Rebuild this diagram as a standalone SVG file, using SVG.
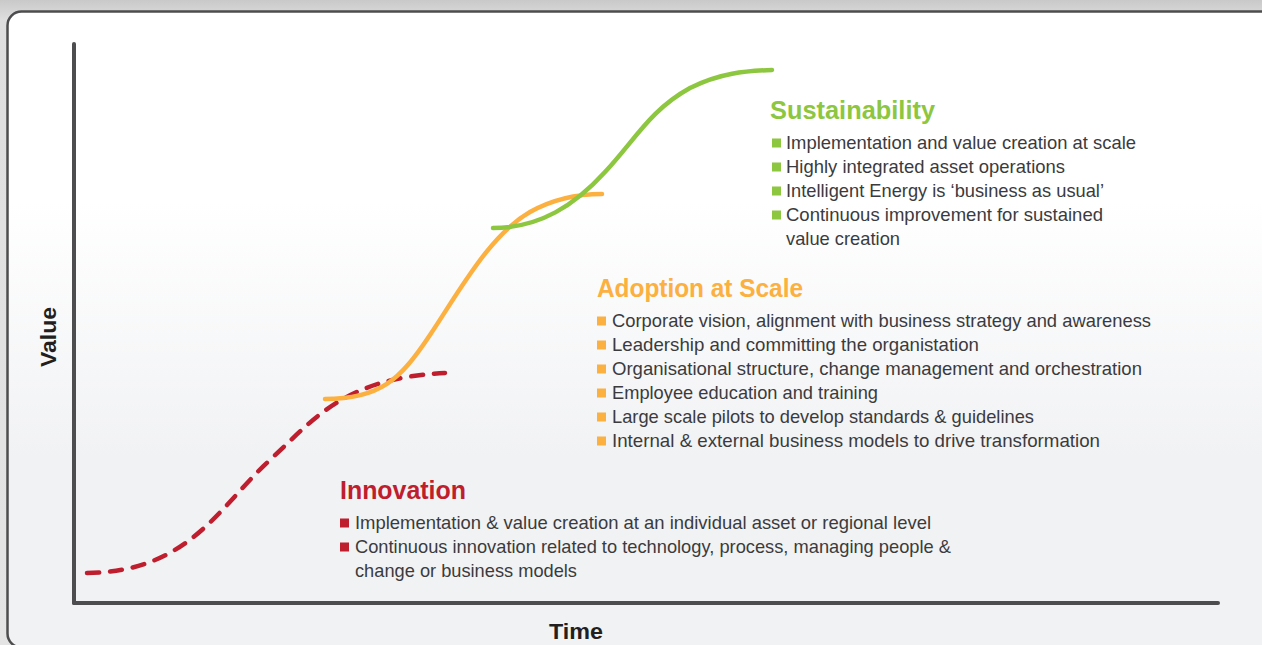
<svg xmlns="http://www.w3.org/2000/svg" width="1262" height="645" viewBox="0 0 1262 645">
<defs>
<linearGradient id="topbg" x1="0" y1="0" x2="0" y2="1">
<stop offset="0" stop-color="#c9c9c9"/>
<stop offset="0.03" stop-color="#dedede"/>
<stop offset="1" stop-color="#e4e4e4"/>
</linearGradient>
<linearGradient id="panel" x1="0" y1="0" x2="0" y2="1">
<stop offset="0" stop-color="#ffffff"/>
<stop offset="0.3" stop-color="#ffffff"/>
<stop offset="0.7" stop-color="#f1f2f4"/>
<stop offset="1" stop-color="#f1f2f4"/>
</linearGradient>
<style>
.axis{stroke:#4d4d4f;stroke-width:4;stroke-linecap:round;fill:none}
.curve{fill:none;stroke-width:4.5;stroke-linecap:round}
.body{font-family:"Liberation Sans",Arial,sans-serif;font-size:19px;fill:#3b3b3d}
.head{font-family:"Liberation Sans",Arial,sans-serif;font-size:26px;font-weight:bold}
.lab{font-family:"Liberation Sans",Arial,sans-serif;font-size:22px;font-weight:bold;fill:#231f20}
.g{fill:#8dc63f}.o{fill:#fbb040}.r{fill:#be1e2d}
</style>
</defs>
<rect x="0" y="0" width="1262" height="645" fill="url(#topbg)"/>
<rect x="7.5" y="11.5" width="1290" height="636" rx="14" fill="url(#panel)" stroke="#4d4d4f" stroke-width="2.5"/>
<g id="axes">
<line class="axis" x1="74" y1="44" x2="74" y2="603"/>
<line class="axis" x1="74" y1="603" x2="1218" y2="603"/>
<text class="lab" text-anchor="middle" transform="translate(56,337) rotate(-90)" textLength="60" lengthAdjust="spacingAndGlyphs">Value</text>
<text class="lab" x="576" y="639" text-anchor="middle" textLength="54" lengthAdjust="spacingAndGlyphs">Time</text>
</g>
<g id="connectors">
<path class="curve" stroke="#be1e2d" stroke-dasharray="12 11" d="M87,573 C190,572 220,505 270,460 C315,418 345,378 445,373"/>
<path class="curve" stroke="#fbb040" d="M325,399 C380,399 400,380 430,335 C460,290 490,235 530,212 C555,198 580,194 602,194"/>
<path class="curve" stroke="#8dc63f" d="M493,228 C540,228 575,205 605,172 C635,140 650,110 690,88 C720,73 745,71 772,70"/>
</g>
<g id="sustainability">
<text class="head g" x="770" y="119" textLength="165" lengthAdjust="spacingAndGlyphs">Sustainability</text>
<rect class="g" x="772" y="138.5" width="9" height="9"/>
<rect class="g" x="772" y="162.5" width="9" height="9"/>
<rect class="g" x="772" y="186.5" width="9" height="9"/>
<rect class="g" x="772" y="210.5" width="9" height="9"/>
<text class="body" x="786" y="149" textLength="350" lengthAdjust="spacingAndGlyphs">Implementation and value creation at scale</text>
<text class="body" x="786" y="173" textLength="279" lengthAdjust="spacingAndGlyphs">Highly integrated asset operations</text>
<text class="body" x="786" y="197" textLength="318" lengthAdjust="spacingAndGlyphs">Intelligent Energy is ‘business as usual’</text>
<text class="body" x="786" y="221" textLength="317" lengthAdjust="spacingAndGlyphs">Continuous improvement for sustained</text>
<text class="body" x="786" y="245" textLength="114" lengthAdjust="spacingAndGlyphs">value creation</text>
</g>
<g id="adoption">
<text class="head o" x="597" y="297" textLength="206" lengthAdjust="spacingAndGlyphs">Adoption at Scale</text>
<rect class="o" x="597" y="316.5" width="9" height="9"/>
<rect class="o" x="597" y="340.5" width="9" height="9"/>
<rect class="o" x="597" y="364.5" width="9" height="9"/>
<rect class="o" x="597" y="388.5" width="9" height="9"/>
<rect class="o" x="597" y="412.5" width="9" height="9"/>
<rect class="o" x="597" y="436.5" width="9" height="9"/>
<text class="body" x="612" y="327" textLength="539" lengthAdjust="spacingAndGlyphs">Corporate vision, alignment with business strategy and awareness</text>
<text class="body" x="612" y="351" textLength="367" lengthAdjust="spacingAndGlyphs">Leadership and committing the organistation</text>
<text class="body" x="612" y="375" textLength="530" lengthAdjust="spacingAndGlyphs">Organisational structure, change management and orchestration</text>
<text class="body" x="612" y="399" textLength="266" lengthAdjust="spacingAndGlyphs">Employee education and training</text>
<text class="body" x="612" y="423" textLength="422" lengthAdjust="spacingAndGlyphs">Large scale pilots to develop standards &amp; guidelines</text>
<text class="body" x="612" y="447" textLength="488" lengthAdjust="spacingAndGlyphs">Internal &amp; external business models to drive transformation</text>
</g>
<g id="innovation">
<text class="head r" x="340" y="499" textLength="126" lengthAdjust="spacingAndGlyphs">Innovation</text>
<rect class="r" x="340" y="518.5" width="9" height="9"/>
<rect class="r" x="340" y="542.5" width="9" height="9"/>
<text class="body" x="355" y="529" textLength="576" lengthAdjust="spacingAndGlyphs">Implementation &amp; value creation at an individual asset or regional level</text>
<text class="body" x="355" y="553" textLength="596" lengthAdjust="spacingAndGlyphs">Continuous innovation related to technology, process, managing people &amp;</text>
<text class="body" x="355" y="577" textLength="222" lengthAdjust="spacingAndGlyphs">change or business models</text>
</g>
</svg>
